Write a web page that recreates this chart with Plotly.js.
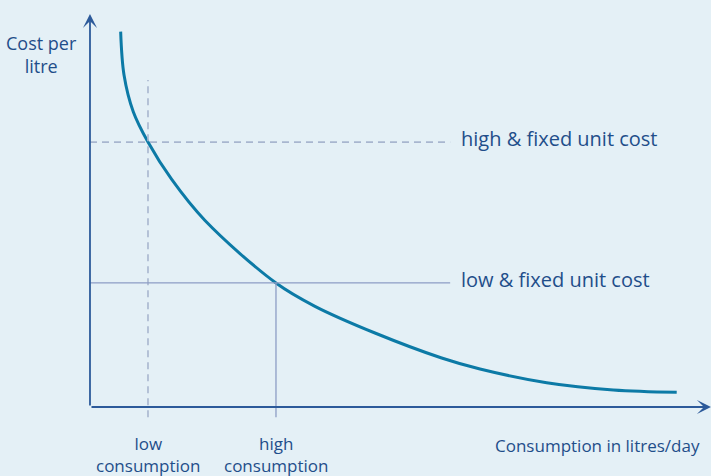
<!DOCTYPE html>
<html>
<head>
<meta charset="utf-8">
<script src="https://cdn.plot.ly/plotly-3.0.1.min.js"></script>
<style>
html,body{margin:0;padding:0;background:#e4f0f6;}
#chart{width:711px;height:476px;}
</style>
</head>
<body>
<div id="chart"></div>
<script>
// Curve: cost per litre vs consumption (arbitrary units 0-100)
const consumption = [4.94, 5.48, 6.97, 9.34, 13.16, 18.52, 29.95, 36.23, 45.89, 56.63, 62.80, 73.54, 84.27, 94.48];
const costPerLitre = [95.50, 84.48, 75.14, 67.43, 57.89, 47.46, 31.55, 25.62, 18.83, 12.47, 9.67, 6.18, 4.33, 3.74];

// Reference levels
const consumptionLevels = [9.34, 29.95];         // low, high consumption
const consumptionLabels = ["low<br>consumption", "high<br>consumption"];
const unitCostLevels = [67.4, 31.6];             // high, low fixed unit cost
const unitCostLabels = ["high & fixed unit cost", "low & fixed unit cost"];
const refLineEnd = 58.0;
const lowConsTop = 83.2;
const axisMax = [100, 100];                      // x, y axis arrow tips
const yAxisTitle = "Cost per<br>litre";
const xAxisTitle = "Consumption in litres/day";

const textColor = "#1f4e8a";
const axisColor = "#2c5a9a";
const font = "Open Sans, Noto Sans, sans-serif";

const traces = [{
  x: consumption, y: costPerLitre, type: "scatter", mode: "lines",
  line: {color: "#0c7aa6", width: 3, shape: "spline", smoothing: 1.0},
  hoverinfo: "skip", showlegend: false
}];

const shapes = [
  // high & fixed unit cost (dashed)
  {type: "line", xref: "x", yref: "y", x0: 0, x1: refLineEnd, y0: unitCostLevels[0], y1: unitCostLevels[0],
   line: {color: "#a8b6cf", width: 1.6, dash: "7px,5px"}},
  // low consumption (dashed vertical)
  {type: "line", xref: "x", yref: "y", x0: consumptionLevels[0], x1: consumptionLevels[0], y0: -2.6, y1: lowConsTop,
   line: {color: "#a8b6cf", width: 1.6, dash: "7px,5px"}},
  // low & fixed unit cost (solid)
  {type: "line", xref: "x", yref: "y", x0: 0, x1: refLineEnd, y0: unitCostLevels[1], y1: unitCostLevels[1],
   line: {color: "#8d9dc5", width: 1.3}},
  // high consumption (solid vertical)
  {type: "line", xref: "x", yref: "y", x0: consumptionLevels[1], x1: consumptionLevels[1], y0: -2.6, y1: unitCostLevels[1],
   line: {color: "#8d9dc5", width: 1.3}}
];

const annotations = [
  // axes with arrows
  {x: 0, y: axisMax[1], ax: 0, ay: 0, xref: "x", yref: "y", axref: "x", ayref: "y",
   text: "", showarrow: true, arrowhead: 3, arrowsize: 1.3, arrowwidth: 1.8, arrowcolor: axisColor,
   standoff: 0, startstandoff: 0},
  {x: axisMax[0], y: 0, ax: 0, ay: 0, xref: "x", yref: "y", axref: "x", ayref: "y",
   text: "", showarrow: true, arrowhead: 3, arrowsize: 1.3, arrowwidth: 1.8, arrowcolor: axisColor,
   standoff: 0, startstandoff: 0},
  // axis titles
  {x: -7.8, y: 89.6, xref: "x", yref: "y", text: yAxisTitle, showarrow: false,
   xanchor: "center", yanchor: "middle", align: "center", font: {family: font, size: 18, color: textColor}},
  {x: 98.6, y: -9.9, xref: "x", yref: "y", text: xAxisTitle, showarrow: false,
   xanchor: "right", yanchor: "middle", font: {family: font, size: 17, color: textColor}},
  // level labels
  {x: 59.4, y: 68.2, xref: "x", yref: "y", text: unitCostLabels[0], showarrow: false,
   xanchor: "left", yanchor: "middle", font: {family: font, size: 20, color: textColor}},
  {x: 59.4, y: 32.4, xref: "x", yref: "y", text: unitCostLabels[1], showarrow: false,
   xanchor: "left", yanchor: "middle", font: {family: font, size: 20, color: textColor}}
];
consumptionLevels.forEach((v, i) => {
  annotations.push({x: v, y: -12.1, xref: "x", yref: "y", text: consumptionLabels[i], showarrow: false,
    xanchor: "center", yanchor: "middle", align: "center", font: {family: font, size: 17, color: textColor}});
});

const layout = {
  width: 711, height: 476,
  margin: {l: 0, r: 0, t: 0, b: 0, pad: 0},
  paper_bgcolor: "#e4f0f6", plot_bgcolor: "#e4f0f6",
  xaxis: {range: [-14.49, 100], visible: false, fixedrange: true},
  yaxis: {range: [-17.56, 103.56], visible: false, fixedrange: true},
  shapes: shapes, annotations: annotations, showlegend: false,
  font: {family: font, color: textColor}
};

Plotly.newPlot("chart", traces, layout, {displayModeBar: false, staticPlot: true});
</script>
</body>
</html>
